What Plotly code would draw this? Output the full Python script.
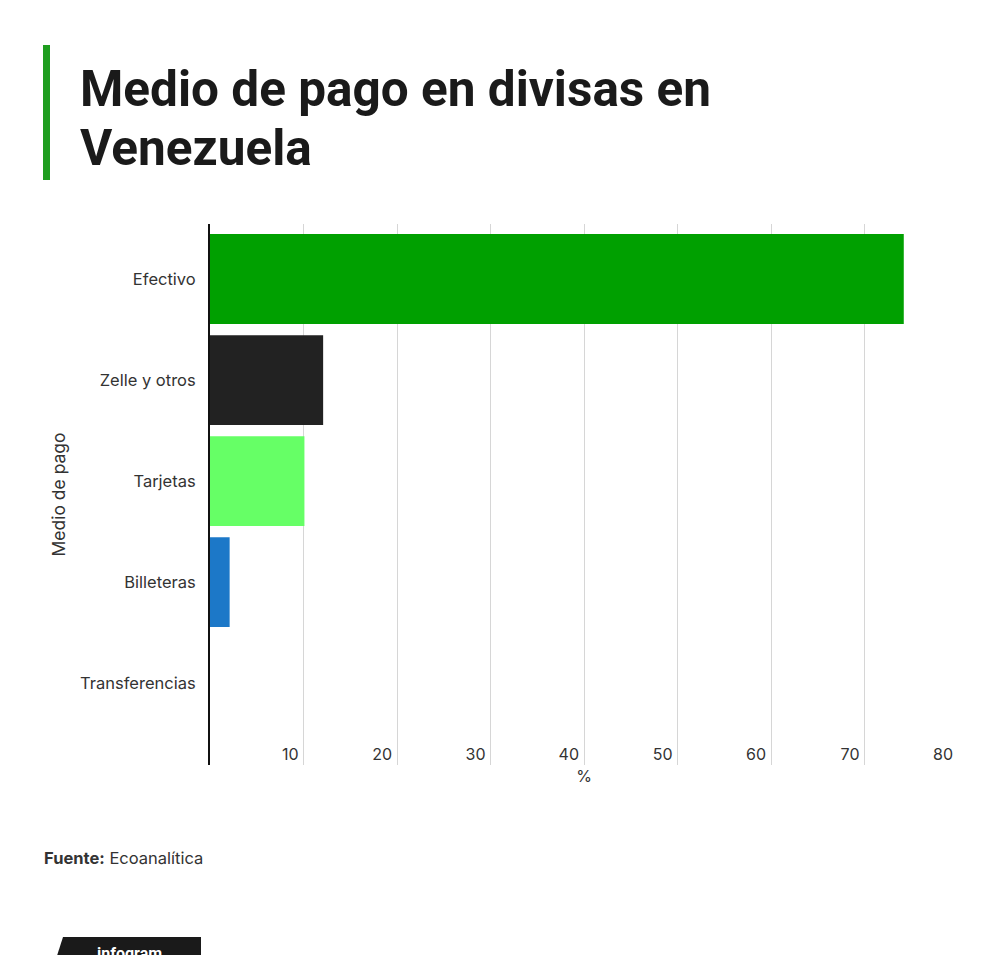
import plotly.graph_objects as go

# data
categories = ['Efectivo', 'Zelle y otros', 'Tarjetas', 'Billeteras', 'Transferencias']
values = [74.2, 12.1, 10.1, 2.1, 0.0]
bar_colors = ['#00a000', '#222222', '#66ff66', '#1c78c8', '#9a9a9a']
tick_vals = [10, 20, 30, 40, 50, 60, 70, 80]

W, H = 1000, 955
OFF = 8  # page body margin
# plot area in page pixels
L, R, T, B = 210, 958, 224, 765


def px(x):
    return (x - L) / (R - L)


def py(y):
    return (B - y) / (B - T)


fig = go.Figure()
fig.add_trace(go.Bar(
    x=values, y=categories, orientation='h',
    marker=dict(color=bar_colors, line=dict(width=0)),
    width=0.89, hoverinfo='x+y',
))

fig.update_layout(
    width=W, height=H,
    margin=dict(l=L - OFF, r=W - R + OFF, t=T - OFF, b=H - B + OFF, pad=0),
    paper_bgcolor='white', plot_bgcolor='white',
    showlegend=False,
    font=dict(family='Inter, Roboto, sans-serif', size=16, color='#333333'),
)

fig.update_xaxes(
    range=[0, 80], tickvals=tick_vals,
    ticklabelposition='inside left', ticks='', ticklabelshift=-5,
    ticklabelstandoff=-4,
    showgrid=True, gridcolor='#d6d6d6', gridwidth=1,
    zeroline=False, showline=False,
    tickfont=dict(size=16, color='#333333'),
    title=dict(text='%', standoff=8, font=dict(size=16, color='#333333')),
)

fig.update_yaxes(
    categoryorder='array', categoryarray=categories,
    range=[4.81, -0.545],
    showline=True, linecolor='#111111', linewidth=2,
    showgrid=False, ticks='', ticklabelstandoff=9,
    tickfont=dict(size=16.5, color='#333333'),
    title=dict(text='Medio de pago', standoff=10, font=dict(size=17.5, color='#333333')),
)

# title, one annotation per line
title_font = dict(family='Roboto, Inter, sans-serif', size=49.5, color='#1a1a1a', weight=700)
for text, base in [('Medio de pago en divisas en', 107), ('Venezuela', 166)]:
    fig.add_annotation(xref='paper', yref='paper', x=px(78), y=py(base - 18),
                       xanchor='left', yanchor='middle', showarrow=False,
                       text=text, font=title_font)

# green accent bar next to the title
fig.add_shape(type='rect', xref='paper', yref='paper',
              x0=px(43), x1=px(50), y0=py(45), y1=py(180),
              fillcolor='#1f9e1f', line=dict(width=0), layer='above')

# source
fig.add_annotation(xref='paper', yref='paper', x=px(42), y=py(858),
                   xanchor='left', yanchor='middle', showarrow=False,
                   text='<b>Fuente:</b> Ecoanalítica',
                   font=dict(size=16.5, color='#333333'))

# infogram badge
fig.add_shape(type='path', xref='paper', yref='paper',
              path='M {} {} L {} {} L {} {} L {} {} Z'.format(
                  px(63), py(937), px(201), py(937), px(201), py(962), px(55), py(962)),
              fillcolor='#1a1a1a', line=dict(width=0))
fig.add_annotation(xref='paper', yref='paper', x=px(129), y=py(953),
                   xanchor='center', yanchor='middle', showarrow=False,
                   text='<b>infogram</b>',
                   font=dict(size=16, color='white', family='Roboto, sans-serif'))

fig.write_html('out.html')
